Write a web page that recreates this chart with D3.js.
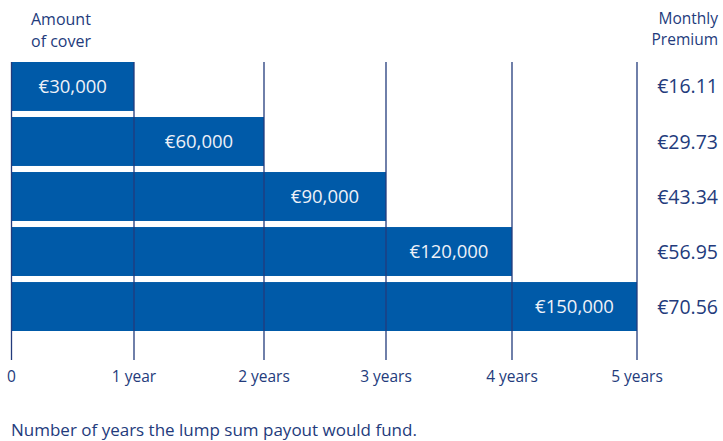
<!DOCTYPE html>
<html>
<head>
<meta charset="utf-8">
<script src="https://cdn.jsdelivr.net/npm/d3@7"></script>
<style>
  body { margin: 0; background: #fff; }
  text { font-family: "Open Sans", "Noto Sans", sans-serif; }
</style>
</head>
<body>
<div id="chart"></div>
<script>
var width = 723;
var height = 441;

var cover = ["€30,000", "€60,000", "€90,000", "€120,000", "€150,000"];
var years = [1, 2, 3, 4, 5];
var premiums = ["€16.11", "€29.73", "€43.34", "€56.95", "€70.56"];
var ticks = [0, 1, 2, 3, 4, 5];
var tickLabels = ["0", "1 year", "2 years", "3 years", "4 years", "5 years"];

var navy = "#233b7c";
var blue = "#005aa8";

var svg = d3.select("#chart")
  .append("svg")
    .attr("width", width)
    .attr("height", height);

// the original's year columns are not quite even, so map each tick
var xScale = d3.scaleLinear()
  .domain(ticks)
  .range([11.5, 134, 264, 386, 512, 637]);

var yScale = d3.scaleBand()
  .domain(cover)
  .range([62, 331])
  .paddingInner(0.11)
  .paddingOuter(0);

// bars
svg.selectAll("rect.bar")
  .data(cover)
  .enter()
  .append("rect")
    .attr("class", "bar")
    .attr("x", xScale(0))
    .attr("y", function (d) { return yScale(d); })
    .attr("width", function (d, i) { return xScale(years[i]) - xScale(0); })
    .attr("height", yScale.bandwidth())
    .attr("fill", blue);

// vertical grid lines, drawn over the bars
svg.selectAll("line.grid")
  .data(ticks)
  .enter()
  .append("line")
    .attr("class", "grid")
    .attr("x1", function (d) { return xScale(d); })
    .attr("x2", function (d) { return xScale(d); })
    .attr("y1", 62)
    .attr("y2", 360)
    .attr("stroke", navy)
    .attr("stroke-width", 1.3);

// labels inside the bars
svg.selectAll("text.cover")
  .data(cover)
  .enter()
  .append("text")
    .attr("class", "cover")
    .attr("x", function (d, i) { return (xScale(years[i] - 1) + xScale(years[i])) / 2; })
    .attr("y", function (d) { return yScale(d) + yScale.bandwidth() / 2; })
    .attr("dy", "0.36em")
    .attr("text-anchor", "middle")
    .attr("fill", "#eef1f8")
    .style("font-size", "18.5px")
    .text(function (d) { return d; });

// premium labels
svg.selectAll("text.premium")
  .data(premiums)
  .enter()
  .append("text")
    .attr("class", "premium")
    .attr("x", 718)
    .attr("y", function (d, i) { return yScale(cover[i]) + yScale.bandwidth() / 2; })
    .attr("dy", "0.36em")
    .attr("text-anchor", "end")
    .attr("fill", navy)
    .style("font-size", "19.5px")
    .text(function (d) { return d; });

// x axis labels
svg.selectAll("text.tick")
  .data(ticks)
  .enter()
  .append("text")
    .attr("class", "tick")
    .attr("x", function (d) { return xScale(d); })
    .attr("y", 382)
    .attr("text-anchor", "middle")
    .attr("fill", navy)
    .style("font-size", "15.5px")
    .text(function (d, i) { return tickLabels[i]; });

// headers
var left = svg.append("text")
  .attr("fill", navy)
  .style("font-size", "16px");
left.append("tspan").attr("x", 31).attr("y", 25).text("Amount");
left.append("tspan").attr("x", 31).attr("y", 47).text("of cover");

var right = svg.append("text")
  .attr("fill", navy)
  .attr("text-anchor", "end")
  .style("font-size", "15.5px");
right.append("tspan").attr("x", 718).attr("y", 24).text("Monthly");
right.append("tspan").attr("x", 718).attr("y", 45).text("Premium");

svg.append("text")
  .attr("x", 11)
  .attr("y", 436)
  .attr("fill", navy)
  .style("font-size", "17px")
  .text("Number of years the lump sum payout would fund.");
</script>
</body>
</html>
